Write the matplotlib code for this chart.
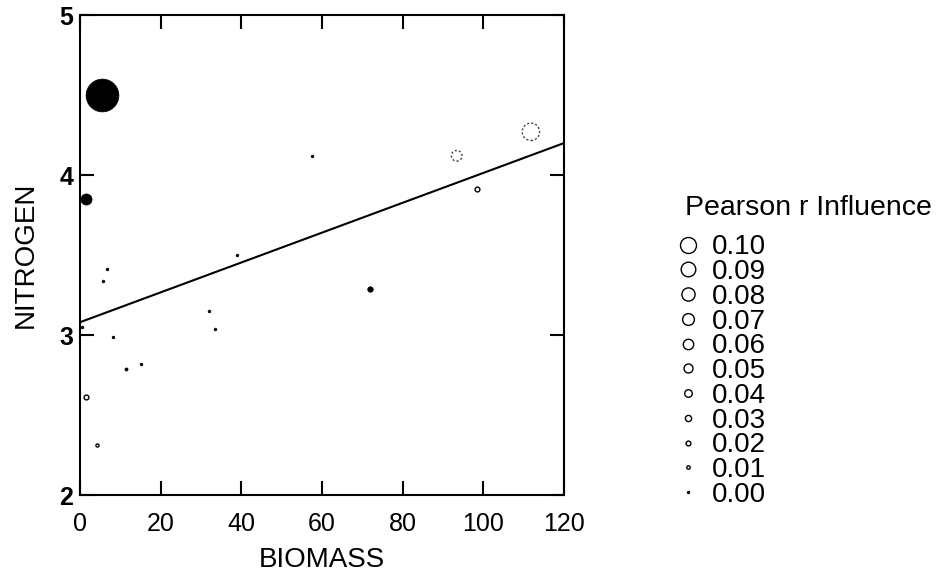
import matplotlib
matplotlib.use('Agg')
import matplotlib.pyplot as plt
from matplotlib.lines import Line2D

plt.rcParams['font.family'] = ['Liberation Sans', 'DejaVu Sans']

# observations
biomass = [5.5, 1.5, 111.8, 93.4, 98.4, 57.6, 38.8, 71.8, 6.8, 5.8,
           31.9, 33.5, 0.4, 8.1, 11.4, 15.2, 1.6, 4.1]
nitrogen = [4.50, 3.85, 4.27, 4.12, 3.91, 4.12, 3.50, 3.29, 3.41, 3.34,
            3.15, 3.04, 3.05, 2.99, 2.79, 2.82, 2.61, 2.31]
influence = [0.22, 0.065, 0.11, 0.062, 0.02, 0.005, 0.005, 0.025, 0.005, 0.005,
             0.005, 0.005, 0.005, 0.005, 0.008, 0.005, 0.02, 0.008]
# 1 = filled, 0 = open, -1 = dotted outline
kind = [1, 1, -1, -1, 0, 1, 1, 1, 1, 1, 1, 1, 1, 1, 1, 1, 0, 0]

# fitted line
intercept = 3.08
slope = 0.00933

legend_values = [0.10, 0.09, 0.08, 0.07, 0.06, 0.05, 0.04, 0.03, 0.02, 0.01, 0.00]

DPI = 100


def msize(inf):
    # marker diameter in points
    return (2 + 140 * inf) * 72 / DPI


fig = plt.figure(figsize=(9.37, 5.73), dpi=DPI)
ax = fig.add_axes([0.0854, 0.1361, 0.5165, 0.8377])

for x, y, inf, k in zip(biomass, nitrogen, influence, kind):
    if k == 1:
        ax.plot(x, y, 'o', ms=msize(inf), mfc='black', mec='black', mew=0.5)
    elif k == 0:
        ax.plot(x, y, 'o', ms=msize(inf), mfc='none', mec='black', mew=1.0)
    else:
        ax.scatter([x], [y], s=msize(inf) ** 2, facecolors='none',
                   edgecolors='#444444', linewidths=1.0,
                   linestyles=(0, (1.5, 1.5)))

xl = [0, 120]
ax.plot(xl, [intercept + slope * v for v in xl], color='black', lw=1.5)

ax.set_xlim(0, 120)
ax.set_ylim(2, 5)
ax.set_xticks([0, 20, 40, 60, 80, 100, 120])
ax.set_yticks([2, 3, 4, 5])
ax.tick_params(direction='in', length=10, width=1.5, top=True, right=True,
               labelsize=18)
ax.tick_params(axis='x', pad=12)
ax.tick_params(axis='y', pad=5)
for lab in ax.get_yticklabels():
    lab.set_fontweight('bold')
for s in ax.spines.values():
    s.set_linewidth(1.5)

ax.set_xlabel('BIOMASS', fontsize=20, labelpad=8)
ax.set_ylabel('NITROGEN', fontsize=20, labelpad=15)

fig.text(685 / 937, 1 - 208 / 573, 'Pearson r Influence', fontsize=20.5,
         ha='left', va='center')

handles = [Line2D([], [], ls='none', marker='o', ms=msize(v), mfc='none',
                  mec='black', mew=1.0) for v in legend_values]
labels = ['%.2f' % v for v in legend_values]
leg = fig.legend(handles, labels, loc='upper left',
                 bbox_to_anchor=(0.7254, 0.591), frameon=False, fontsize=20,
                 handlelength=0.6, handletextpad=0.55,
                 labelspacing=-0.045, borderpad=0, borderaxespad=0)

fig.savefig('out.png', dpi=DPI)
